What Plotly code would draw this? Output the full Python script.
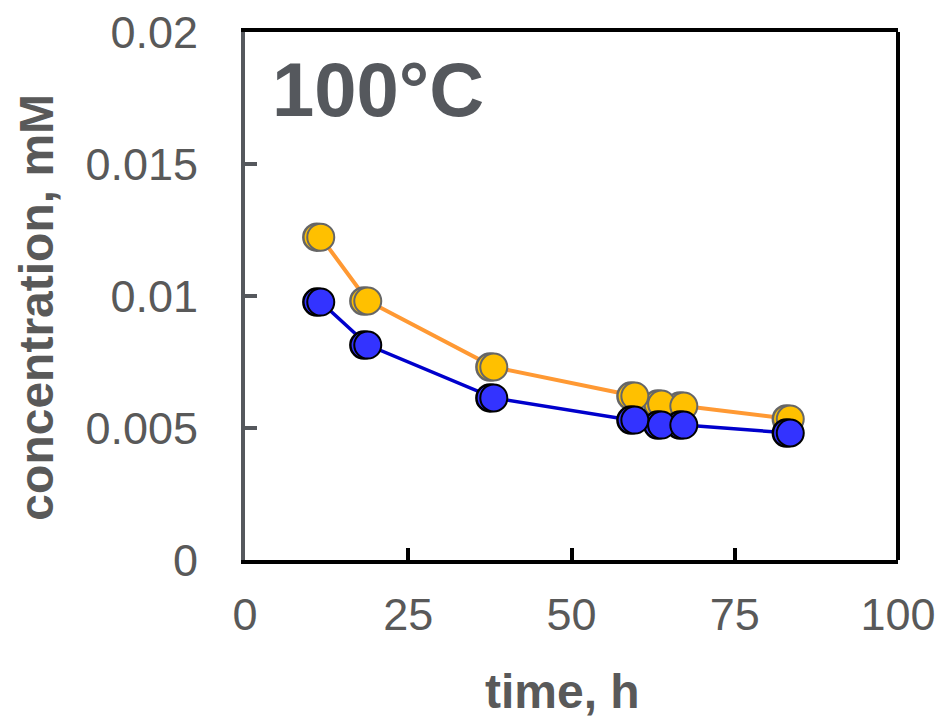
import plotly.graph_objects as go

time_h = [11.6, 18.8, 38.1, 59.7, 63.8, 67.2, 83.5]
conc_orange = [0.01223, 0.00981, 0.00731, 0.00621, 0.00591, 0.00583, 0.00534]
conc_blue = [0.00977, 0.00814, 0.00614, 0.00530, 0.00511, 0.00511, 0.00481]

x_ticks = [0, 25, 50, 75, 100]
y_ticks = [0, 0.005, 0.01, 0.015, 0.02]
y_tick_labels = ["0", "0.005", "0.01", "0.015", "0.02"]

shadow_dx = 0.6
GREY = "#595959"
FONT = "Liberation Sans, Arial, sans-serif"

fig = go.Figure()

def add_series(y, line_color, line_w, fill, edge):
    fig.add_trace(go.Scatter(x=time_h, y=y, mode="lines",
                             line=dict(color=line_color, width=line_w),
                             hoverinfo="skip", showlegend=False))
    fig.add_trace(go.Scatter(x=[t - shadow_dx for t in time_h], y=y, mode="markers",
                             marker=dict(size=27, color=fill, line=dict(color=edge, width=2.5)),
                             showlegend=False))
    fig.add_trace(go.Scatter(x=time_h, y=y, mode="markers",
                             marker=dict(size=27, color=fill, line=dict(color=edge, width=2)),
                             showlegend=False))

add_series(conc_orange, "#FF9933", 4, "#FFC000", "#666666")
add_series(conc_blue, "#0000CC", 3.5, "#3333FF", "#000000")

fig.update_layout(
    width=939, height=721,
    margin=dict(l=245, r=41, t=32, b=161),
    paper_bgcolor="white", plot_bgcolor="white",
    font=dict(family=FONT, color=GREY),
    xaxis=dict(range=[0, 100], tickvals=x_ticks, showgrid=False, zeroline=False, automargin=False,
               showline=True, linecolor="black", linewidth=4, mirror=True,
               ticks="inside", ticklen=12, tickwidth=4, tickcolor="black",
               tickfont=dict(size=45, color=GREY, family=FONT), ticklabelstandoff=12),
    yaxis=dict(range=[0, 0.02], tickvals=y_ticks, ticktext=y_tick_labels, showgrid=False, zeroline=False,
               automargin=False,
               showline=True, linecolor="#55585d", linewidth=4, mirror=False,
               ticks="inside", ticklen=12, tickwidth=4, tickcolor="#55585d",
               tickfont=dict(size=45, color=GREY, family=FONT), ticklabelstandoff=34),
    shapes=[dict(type="line", xref="paper", yref="paper", x0=1, x1=1, y0=0, y1=1,
                 line=dict(color="black", width=4))],
    annotations=[
        dict(text="<b>100°C</b>", xref="x", yref="paper", x=3.9, y=0.975,
             xanchor="left", yanchor="top", showarrow=False,
             font=dict(size=76, color="#55585d", family=FONT)),
        dict(text="<b>time, h</b>", xref="paper", yref="paper", x=0.486, y=-0.302,
             xanchor="center", yanchor="bottom", showarrow=False, borderpad=0,
             font=dict(size=48, color=GREY, family=FONT)),
        dict(text="<b>concentration, mM</b>", xref="paper", yref="paper", x=-0.3185, y=0.478,
             xanchor="center", yanchor="middle", showarrow=False, textangle=-90,
             font=dict(size=48, color=GREY, family=FONT)),
    ],
)

fig.write_html("out.html", config={"displayModeBar": False},
               post_script="document.body.style.margin='0';document.body.style.padding='0';")
